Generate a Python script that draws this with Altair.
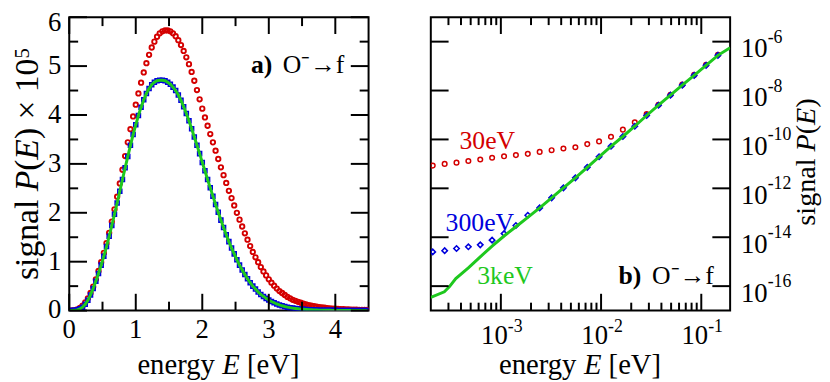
import altair as alt
import pandas as pd

FONT = "Liberation Serif"
RED = "#d40000"
BLUE = "#0000dc"
GREEN = "#1ec81e"

# ---------------- panel a: linear scale ----------------
E_a = [0.00, 0.04, 0.08, 0.12, 0.16, 0.20, 0.24, 0.28, 0.32, 0.36, 0.40, 0.44, 0.48, 0.52, 0.56, 0.60,
       0.64, 0.68, 0.72, 0.76, 0.80, 0.84, 0.88, 0.92, 0.96, 1.00, 1.04, 1.08, 1.12, 1.16, 1.20, 1.24,
       1.28, 1.32, 1.36, 1.40, 1.44, 1.48, 1.52, 1.56, 1.60, 1.64, 1.68, 1.72, 1.76, 1.80, 1.84, 1.88,
       1.92, 1.96, 2.00, 2.04, 2.08, 2.12, 2.16, 2.20, 2.24, 2.28, 2.32, 2.36, 2.40, 2.44, 2.48, 2.52,
       2.56, 2.60, 2.64, 2.68, 2.72, 2.76, 2.80, 2.84, 2.88, 2.92, 2.96, 3.00, 3.04, 3.08, 3.12, 3.16,
       3.20, 3.24, 3.28, 3.32, 3.36, 3.40, 3.44, 3.48, 3.52, 3.56, 3.60, 3.64, 3.68, 3.72, 3.76, 3.80,
       3.84, 3.88, 3.92, 3.96, 4.00, 4.04, 4.08, 4.12, 4.16, 4.20, 4.24, 4.28, 4.32, 4.36, 4.40, 4.44,
       4.48]
P_30eV_a = [0.000, 0.002, 0.010, 0.025, 0.055, 0.100, 0.165, 0.250, 0.360, 0.490, 0.640, 0.810, 0.990,
            1.180, 1.380, 1.590, 1.820, 2.070, 2.330, 2.600, 2.880, 3.160, 3.440, 3.710, 3.970, 4.210,
            4.440, 4.660, 4.870, 5.060, 5.230, 5.380, 5.500, 5.600, 5.670, 5.710, 5.730, 5.730, 5.710,
            5.670, 5.610, 5.530, 5.430, 5.310, 5.180, 5.040, 4.880, 4.700, 4.510, 4.320, 4.130, 3.950,
            3.780, 3.610, 3.440, 3.270, 3.100, 2.930, 2.770, 2.610, 2.450, 2.300, 2.150, 2.000, 1.860,
            1.720, 1.580, 1.450, 1.320, 1.200, 1.090, 0.990, 0.890, 0.800, 0.720, 0.640, 0.570, 0.510,
            0.450, 0.400, 0.360, 0.320, 0.280, 0.250, 0.220, 0.200, 0.180, 0.160, 0.140, 0.125, 0.110,
            0.100, 0.090, 0.080, 0.072, 0.065, 0.058, 0.052, 0.047, 0.042, 0.038, 0.034, 0.031, 0.028,
            0.025, 0.023, 0.021, 0.019, 0.017, 0.015, 0.014, 0.013, 0.012]
P_3keV_a = [0.000, 0.001, 0.005, 0.015, 0.035, 0.070, 0.130, 0.210, 0.320, 0.450, 0.600, 0.760, 0.930,
            1.110, 1.310, 1.520, 1.740, 1.970, 2.200, 2.440, 2.680, 2.920, 3.150, 3.380, 3.600, 3.800,
            3.990, 4.160, 4.310, 4.440, 4.540, 4.620, 4.670, 4.700, 4.710, 4.710, 4.700, 4.670, 4.630,
            4.570, 4.500, 4.410, 4.300, 4.170, 4.030, 3.880, 3.720, 3.550, 3.380, 3.210, 3.030, 2.860,
            2.680, 2.510, 2.340, 2.170, 2.010, 1.850, 1.700, 1.550, 1.410, 1.280, 1.160, 1.040, 0.930,
            0.830, 0.740, 0.650, 0.570, 0.500, 0.440, 0.380, 0.330, 0.290, 0.250, 0.215, 0.185, 0.160,
            0.135, 0.115, 0.098, 0.083, 0.070, 0.060, 0.051, 0.043, 0.036, 0.030, 0.026, 0.022, 0.018,
            0.015, 0.013, 0.011, 0.009, 0.008, 0.007, 0.006, 0.005, 0.004, 0.004, 0.003, 0.003, 0.003,
            0.002, 0.002, 0.002, 0.002, 0.002, 0.001, 0.001, 0.001, 0.001]
# the 300 eV squares lie on the 3 keV curve in panel a
P_300eV_a = list(P_3keV_a)

xa_major = [0, 1, 2, 3, 4]
xa_minor = [0.5, 1.5, 2.5, 3.5]
ya_major = [0, 1, 2, 3, 4, 5, 6]
ya_minor = [0.5, 1.5, 2.5, 3.5, 4.5, 5.5]
xa_labels = ["0", "1", "2", "3", "4"]
ya_labels = ["0", "1", "2", "3", "4", "5"]
ya_top_label = "6"

# ---------------- panel b: log-log ----------------
E_b = [2.09e-4, 2.75e-4, 3.61e-4, 4.74e-4, 6.23e-4, 8.18e-4, 1.076e-3, 1.413e-3, 1.857e-3,
       2.44e-3, 3.21e-3, 4.21e-3, 5.54e-3, 7.28e-3, 9.55e-3, 1.256e-2, 1.65e-2, 2.17e-2, 2.85e-2,
       3.74e-2, 4.92e-2, 6.46e-2, 8.49e-2, 0.1116, 0.1466]
log10P_30eV_b = [-11.07, -11.00, -10.95, -10.88, -10.82, -10.75, -10.69, -10.64, -10.59, -10.51,
                 -10.44, -10.37, -10.32, -10.19, -10.08, -9.89, -9.60, -9.30, -8.96, -8.58, -8.17,
                 -7.76, -7.36, -6.95, -6.54]
log10P_300eV_b = [-14.60, -14.55, -14.46, -14.39, -14.31, -14.12, -13.85, -13.52, -13.10, -12.80,
                  -12.39, -11.98, -11.57, -11.14, -10.71, -10.28, -9.88, -9.46, -9.02, -8.60, -8.19,
                  -7.78, -7.38, -6.97, -6.56]
E_line_b = [2.0e-4, 2.73e-4, 3.06e-4, 3.55e-4, 4.74e-4, 6.23e-4, 8.18e-4, 1.076e-3, 1.413e-3,
            1.857e-3, 2.44e-3, 3.21e-3, 4.21e-3, 5.54e-3, 7.28e-3, 9.55e-3, 1.256e-2, 1.65e-2,
            2.17e-2, 2.85e-2, 3.74e-2, 4.92e-2, 6.46e-2, 8.49e-2, 0.1116, 0.1466, 0.194]
log10P_3keV_b = [-16.46, -16.23, -16.03, -15.69, -15.25, -14.80, -14.36, -13.95, -13.57, -13.19,
                 -12.80, -12.39, -11.98, -11.57, -11.14, -10.71, -10.28, -9.88, -9.46, -9.02, -8.60,
                 -8.19, -7.78, -7.38, -6.97, -6.56, -6.25]

xb_major = [1e-3, 1e-2, 1e-1]
xb_minor = [3e-4, 4e-4, 5e-4, 6e-4, 7e-4, 8e-4, 9e-4,
            2e-3, 3e-3, 4e-3, 5e-3, 6e-3, 7e-3, 8e-3, 9e-3,
            2e-2, 3e-2, 4e-2, 5e-2, 6e-2, 7e-2, 8e-2, 9e-2]
xb_exp = ["-3", "-2", "-1"]
yb_major = [1e-16, 1e-14, 1e-12, 1e-10, 1e-8, 1e-6]
yb_exp = ["-16", "-14", "-12", "-10", "-8", "-6"]

W, H = 303, 297
xs_a = alt.Scale(domain=[0, 4.5], nice=False, zero=False)
ys_a = alt.Scale(domain=[0, 6], nice=False, zero=False)
xs_b = alt.Scale(type="log", domain=[2e-4, 0.194], nice=False)
ys_b = alt.Scale(type="log", domain=[1e-17, 1e-5], nice=False)


def hticks(vals, L, scale):
    df = pd.DataFrame({"v": vals})
    out = []
    for y0, y1 in ((H, H - L), (0, L)):
        out.append(alt.Chart(df).mark_rule(color="black", strokeWidth=2).encode(
            x=alt.X("v:Q", scale=scale, axis=None), y=alt.value(y0), y2=alt.value(y1)))
    return out


def vticks(vals, L, scale):
    df = pd.DataFrame({"v": vals})
    out = []
    for x0, x1 in ((0, L), (W - L, W)):
        out.append(alt.Chart(df).mark_rule(color="black", strokeWidth=2).encode(
            y=alt.Y("v:Q", scale=scale, axis=None), x=alt.value(x0), x2=alt.value(x1)))
    return out


def label(txt, x, y, size=27, align="left", angle=0, color="black", style="normal", weight="normal"):
    return alt.Chart(pd.DataFrame({"t": [txt]})).mark_text(
        font=FONT, fontSize=size, align=align, baseline="alphabetic", angle=angle,
        color=color, fontStyle=style, fontWeight=weight).encode(
        x=alt.value(x), y=alt.value(y), text="t:N")


# ---------- panel a layers ----------
df_a = pd.DataFrame({"E": E_a, "p30": P_30eV_a, "p300": P_300eV_a, "p3k": P_3keV_a})
base_a = alt.Chart(df_a)
red_a = base_a.mark_point(shape="circle", filled=False, size=20, strokeWidth=1.9, color=RED,
                          opacity=1, clip=True).encode(
    x=alt.X("E:Q", scale=xs_a, axis=None), y=alt.Y("p30:Q", scale=ys_a, axis=None))
blue_a = base_a.mark_point(shape="square", filled=False, size=16, strokeWidth=1.6, color=BLUE,
                           opacity=1, clip=True).encode(
    x=alt.X("E:Q", scale=xs_a, axis=None), y=alt.Y("p300:Q", scale=ys_a, axis=None))
green_a = base_a.mark_line(color=GREEN, strokeWidth=3, clip=True).encode(
    x=alt.X("E:Q", scale=xs_a, axis=None), y=alt.Y("p3k:Q", scale=ys_a, axis=None))

xlab_a = alt.Chart(pd.DataFrame({"v": xa_major, "t": xa_labels})).mark_text(
    font=FONT, fontSize=27, align="center", baseline="alphabetic").encode(
    x=alt.X("v:Q", scale=xs_a, axis=None), y=alt.value(325), text="t:N")
ylab_a = alt.Chart(pd.DataFrame({"v": ya_major[:-1], "t": ya_labels})).mark_text(
    font=FONT, fontSize=27, align="right", baseline="middle").encode(
    y=alt.Y("v:Q", scale=ys_a, axis=None), x=alt.value(-8), text="t:N")
ylab_a_top = alt.Chart(pd.DataFrame({"v": [ya_major[-1]], "t": [ya_top_label]})).mark_text(
    font=FONT, fontSize=27, align="right", baseline="middle", dy=6).encode(
    y=alt.Y("v:Q", scale=ys_a, axis=None), x=alt.value(-8), text="t:N")

xt = 69
ytb = 266
xl = -32
layers_a = [red_a, blue_a, green_a,
            *hticks(xa_major, 17, xs_a), *hticks(xa_minor, 9, xs_a),
            *vticks(ya_major, 18, ys_a), *vticks(ya_minor, 9, ys_a),
            xlab_a, ylab_a, ylab_a_top,
            label("energy", xt, 361, 29), label("E", xt + 86, 361, 29, style="italic"),
            label("[eV]", xt + 111, 361, 29),
            label("signal", xl, ytb, 34, angle=270),
            label("P", xl, ytb - 89.7, 34, angle=270, style="italic"),
            label("(", xl, ytb - 110.5, 34, angle=270),
            label("E", xl, ytb - 121.8, 34, angle=270, style="italic"),
            label(") \u00d7 10", xl, ytb - 142.6, 34, angle=270),
            label("5", xl - 9, ytb - 224.1, 21, angle=270),
            label("a)", 184, 56, 26, weight="bold"),
            label("O\u207b\u2192f", 216, 56, 26)]
panel_a = alt.layer(*layers_a).properties(width=W, height=H)

# ---------- panel b layers ----------
df_b = pd.DataFrame({"E": E_b, "p30": [10 ** v for v in log10P_30eV_b],
                     "p300": [10 ** v for v in log10P_300eV_b]})
df_bl = pd.DataFrame({"E": E_line_b, "p3k": [10 ** v for v in log10P_3keV_b]})
red_b = alt.Chart(df_b).mark_point(shape="circle", filled=False, size=22, strokeWidth=1.5,
                                   color=RED, opacity=1, clip=True).encode(
    x=alt.X("E:Q", scale=xs_b, axis=None), y=alt.Y("p30:Q", scale=ys_b, axis=None))
blue_b = alt.Chart(df_b).mark_point(shape="diamond", filled=False, size=30, strokeWidth=1.6,
                                    color=BLUE, opacity=1, clip=True).encode(
    x=alt.X("E:Q", scale=xs_b, axis=None), y=alt.Y("p300:Q", scale=ys_b, axis=None))
green_b = alt.Chart(df_bl).mark_line(color=GREEN, strokeWidth=3, clip=True).encode(
    x=alt.X("E:Q", scale=xs_b, axis=None), y=alt.Y("p3k:Q", scale=ys_b, axis=None))

xlab_b10 = alt.Chart(pd.DataFrame({"v": xb_major, "t": ["10"] * 3})).mark_text(
    font=FONT, fontSize=27, align="right", baseline="alphabetic", dx=7).encode(
    x=alt.X("v:Q", scale=xs_b, axis=None), y=alt.value(331), text="t:N")
xlab_bexp = alt.Chart(pd.DataFrame({"v": xb_major, "t": xb_exp})).mark_text(
    font=FONT, fontSize=18, align="left", baseline="alphabetic", dx=7).encode(
    x=alt.X("v:Q", scale=xs_b, axis=None), y=alt.value(319), text="t:N")
ylab_b10 = alt.Chart(pd.DataFrame({"v": yb_major, "t": ["10"] * 6})).mark_text(
    font=FONT, fontSize=27, align="left", baseline="alphabetic", dy=16).encode(
    y=alt.Y("v:Q", scale=ys_b, axis=None), x=alt.value(314), text="t:N")
ylab_bexp = alt.Chart(pd.DataFrame({"v": yb_major, "t": yb_exp})).mark_text(
    font=FONT, fontSize=18, align="left", baseline="alphabetic", dy=1).encode(
    y=alt.Y("v:Q", scale=ys_b, axis=None), x=alt.value(341), text="t:N")

ytr = 211
xr = 389
layers_b = [red_b, blue_b, green_b,
            *hticks(xb_major, 17, xs_b), *hticks(xb_minor, 8, xs_b),
            *vticks(yb_major, 18, ys_b),
            xlab_b10, xlab_bexp, ylab_b10, ylab_bexp,
            label("energy", xt, 361, 29), label("E", xt + 86, 361, 29, style="italic"),
            label("[eV]", xt + 111, 361, 29),
            label("signal", xr, ytr, 28.5, angle=270),
            label("P", xr, ytr - 75, 28.5, angle=270, style="italic"),
            label("(", xr, ytr - 92.4, 28.5, angle=270),
            label("E", xr, ytr - 101.9, 28.5, angle=270, style="italic"),
            label(")", xr, ytr - 119.3, 28.5, angle=270),
            label("30eV", 29, 133, 26, color=RED),
            label("300eV", 15, 216, 26, color=BLUE),
            label("3keV", 47, 270, 26, color=GREEN),
            label("b)", 190, 270, 26, weight="bold"),
            label("O\u207b\u2192f", 224, 270, 26)]
panel_b = alt.layer(*layers_b).properties(width=W, height=H)

chart = alt.hconcat(panel_a, panel_b, spacing=59).properties(
    padding={"left": 1, "top": -2, "right": 0, "bottom": 0}
).configure_view(stroke="black", strokeWidth=2)

chart.save("out.html", embed_options={"renderer": "svg", "actions": False})
